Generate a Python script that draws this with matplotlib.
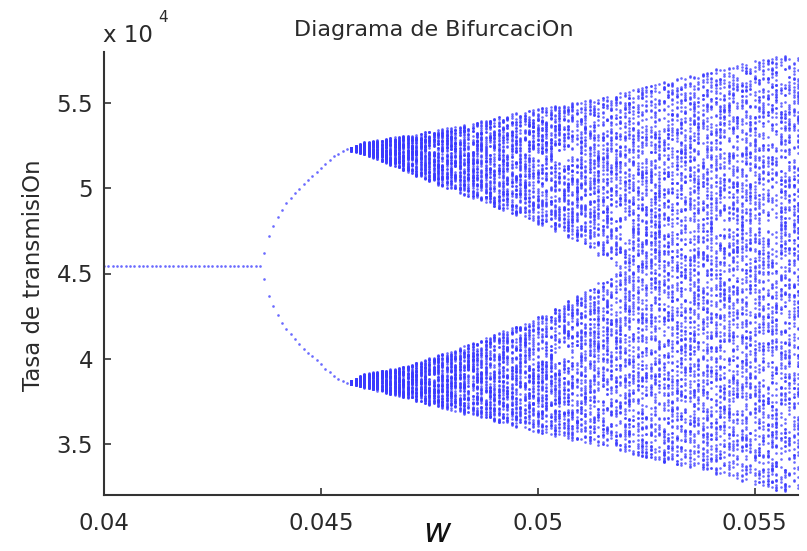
import numpy as np
import matplotlib.pyplot as plt

# parameter w sampled every 1e-4 (one column of points per value)
w_first = 0.0400
w_last = 0.0560
w_step = 1e-4

# period-1 branch (tasa / 1e4)
w_pd = 0.0437          # first period-2 column
fixed_val = 4.543

# period-2 branch: offset from the fixed value, columns 0.0437 ... 0.0456
branch_off = [0.078, 0.176, 0.234, 0.288, 0.332, 0.371, 0.400, 0.429, 0.455, 0.485,
              0.508, 0.529, 0.553, 0.576, 0.602, 0.622, 0.645, 0.661, 0.675, 0.685]

# chaotic bands: edges (tasa / 1e4)
band_w = [0.0456, 0.0460, 0.0470, 0.0480, 0.0490, 0.0500, 0.0510, 0.0519, 0.0530, 0.0540, 0.0550, 0.0560]
up_top = [5.228, 5.270, 5.312, 5.359, 5.412, 5.471, 5.512, 5.560, 5.629, 5.694, 5.753, 5.790]
up_bot = [5.228, 5.200, 5.094, 4.988, 4.894, 4.788, 4.682, 4.520, 4.520, 4.520, 4.520, 4.520]
lo_top = [3.858, 3.910, 3.959, 4.047, 4.141, 4.247, 4.382, 4.520, 4.520, 4.520, 4.520, 4.520]
lo_bot = [3.858, 3.830, 3.765, 3.694, 3.635, 3.565, 3.512, 3.460, 3.388, 3.329, 3.253, 3.200]
w_merge = 0.0519

n_keep = 140
n_skip = 60


def tent(u, a=0.37):
    return u / a if u < a else (1 - u) / (1 - a)


ws = np.round(np.linspace(w_first, w_last, int(round((w_last - w_first) / w_step)) + 1), 5)

px, py = [], []
for i, w in enumerate(ws):
    if w < w_pd:
        px.append(w)
        py.append(fixed_val)
    elif w < band_w[0] + 1e-7:
        off = branch_off[int(round((w - w_pd) / w_step))]
        px += [w, w]
        py += [fixed_val + off, fixed_val - off]
    else:
        ut = np.interp(w, band_w, up_top)
        ub = np.interp(w, band_w, up_bot)
        lt = np.interp(w, band_w, lo_top)
        lb = np.interp(w, band_w, lo_bot)
        u = 0.05 + 0.9 * ((i * 0.6180339887) % 1.0)
        for k in range(n_skip):
            u = tent(u)
        for k in range(n_keep):
            u = tent(u)
            px.append(w)
            if w >= w_merge:
                py.append(lb + u * (ut - lb))
            elif k % 2 == 0:
                py.append(ub + u * (ut - ub))
            else:
                py.append(lb + u * (lt - lb))

px = np.array(px)
py = np.array(py) * 1e4

plt.rcParams['font.family'] = ['DejaVu Sans']
fig = plt.figure(figsize=(8.07, 5.51), dpi=100)
ax = fig.add_axes([104 / 807, 56 / 551, 694 / 807, 443 / 551])

ax.plot(px, py, 'o', color='#3a3aff', markersize=1.9, markeredgewidth=0, alpha=0.75)

ax.set_xlim(0.04, 0.056)
ax.set_ylim(3.2e4, 5.8e4)
ax.set_xticks([0.04, 0.045, 0.05, 0.055])
ax.set_xticklabels(['0.04', '0.045', '0.05', '0.055'])
ax.set_yticks([3.5e4, 4e4, 4.5e4, 5e4, 5.5e4])
ax.set_yticklabels(['3.5', '4', '4.5', '5', '5.5'])

for s in ['top', 'right']:
    ax.spines[s].set_visible(False)
for s in ['left', 'bottom']:
    ax.spines[s].set_color('#333333')
    ax.spines[s].set_linewidth(1.5)
ax.tick_params(direction='in', length=5, width=1.2, color='#333333',
               labelsize=16.5, labelcolor='#2a2a2a')
ax.tick_params(axis='x', pad=12)
ax.tick_params(axis='y', pad=8)

fig.text(434 / 807, 1 - 30 / 551, 'Diagrama de BifurcaciOn', ha='center', va='center',
         fontsize=16, color='#2a2a2a')
fig.text(103 / 807, 1 - 36 / 551, 'x 10', ha='left', va='center', fontsize=16.5, color='#2a2a2a')
fig.text(158 / 807, 1 - 17 / 551, '4', ha='left', va='center', fontsize=11, color='#2a2a2a')
fig.text(34 / 807, 1 - 275 / 551, 'Tasa de transmisiOn', ha='center', va='center',
         rotation=90, fontsize=16.5, color='#2a2a2a')
fig.text(437 / 807, 1 - 533 / 551, 'w', ha='center', va='center', fontsize=24,
         style='italic', color='#111111')

fig.savefig('out.png', dpi=100)
